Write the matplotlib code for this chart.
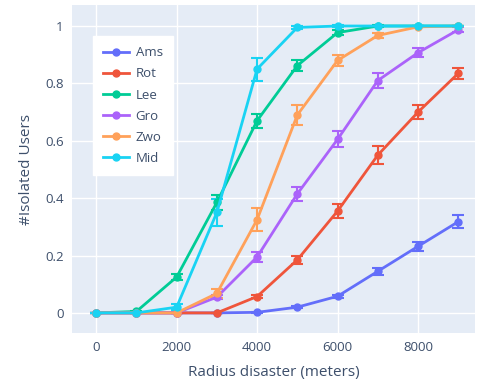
import numpy as np
import matplotlib.pyplot as plt

plt.rcParams['font.family'] = ['Open Sans', 'DejaVu Sans']

# === DATA ===
radius = [0, 1000, 2000, 3000, 4000, 5000, 6000, 7000, 8000, 9000]

ams = [0, 0, 0, 0, 0.002, 0.02, 0.058, 0.145, 0.232, 0.318]
ams_err = [0, 0, 0, 0, 0.002, 0.004, 0.006, 0.012, 0.016, 0.022]

rot = [0, 0, 0, 0, 0.057, 0.185, 0.355, 0.55, 0.70, 0.835]
rot_err = [0, 0, 0, 0, 0.006, 0.015, 0.025, 0.03, 0.025, 0.018]

lee = [0, 0.005, 0.125, 0.385, 0.67, 0.862, 0.977, 1.0, 1.0, 1.0]
lee_err = [0, 0.003, 0.012, 0.025, 0.025, 0.018, 0.008, 0.002, 0, 0]

gro = [0, 0, 0, 0.055, 0.195, 0.415, 0.605, 0.81, 0.907, 0.987]
gro_err = [0, 0, 0, 0.006, 0.018, 0.025, 0.028, 0.025, 0.015, 0.008]

zwo = [0, 0, 0, 0.068, 0.325, 0.69, 0.88, 0.967, 0.997, 1.0]
zwo_err = [0, 0, 0.002, 0.015, 0.04, 0.035, 0.02, 0.008, 0.002, 0]

mid = [0, 0, 0.02, 0.35, 0.85, 0.995, 1.0, 1.0, 1.0, 1.0]
mid_err = [0, 0, 0.01, 0.048, 0.04, 0.005, 0.002, 0, 0, 0]

series = [
    ("Ams", ams, ams_err, "#636EFA"),
    ("Rot", rot, rot_err, "#EF553B"),
    ("Lee", lee, lee_err, "#00CC96"),
    ("Gro", gro, gro_err, "#AB63FA"),
    ("Zwo", zwo, zwo_err, "#FFA15A"),
    ("Mid", mid, mid_err, "#19D3F3"),
]

TXT = "#3d4f6b"

# === PLOT ===
fig = plt.figure(figsize=(4.8, 3.89), dpi=100)
ax = fig.add_axes([0.15, 0.144, 0.84, 0.843])
ax.set_facecolor("#E5ECF6")

for name, vals, err, col in series:
    ax.errorbar(radius, vals, yerr=err, color=col, linewidth=2, marker="o", markersize=5,
                capsize=4, capthick=1.5, elinewidth=1.5, label=name)

ax.set_xlim(-600, 9420)
ax.set_ylim(-0.07, 1.073)
ax.set_xticks([0, 2000, 4000, 6000, 8000])
ax.set_yticks([0, 0.2, 0.4, 0.6, 0.8, 1])
ax.set_yticklabels(["0", "0.2", "0.4", "0.6", "0.8", "1"])
ax.grid(color="white", linewidth=1)
ax.set_axisbelow(True)
for s in ax.spines.values():
    s.set_visible(False)
ax.tick_params(length=0, labelsize=9.5, colors=TXT, pad=6)

ax.set_xlabel("Radius disaster (meters)", fontsize=11, color=TXT, labelpad=8)
ax.set_ylabel("#Isolated Users", fontsize=11, color=TXT, labelpad=8)

handles, labels = ax.get_legend_handles_labels()
handles = [h[0] for h in handles]
leg = ax.legend(handles, labels, loc="upper left", bbox_to_anchor=(0.035, 0.925),
                frameon=True, fancybox=False, fontsize=9.5, labelspacing=0.62,
                handlelength=2.0, handletextpad=0.5, borderpad=0.75, labelcolor=TXT)
leg.get_frame().set_facecolor("white")
leg.get_frame().set_edgecolor("white")
leg.get_frame().set_alpha(1)

fig.savefig("out.png", dpi=100)
